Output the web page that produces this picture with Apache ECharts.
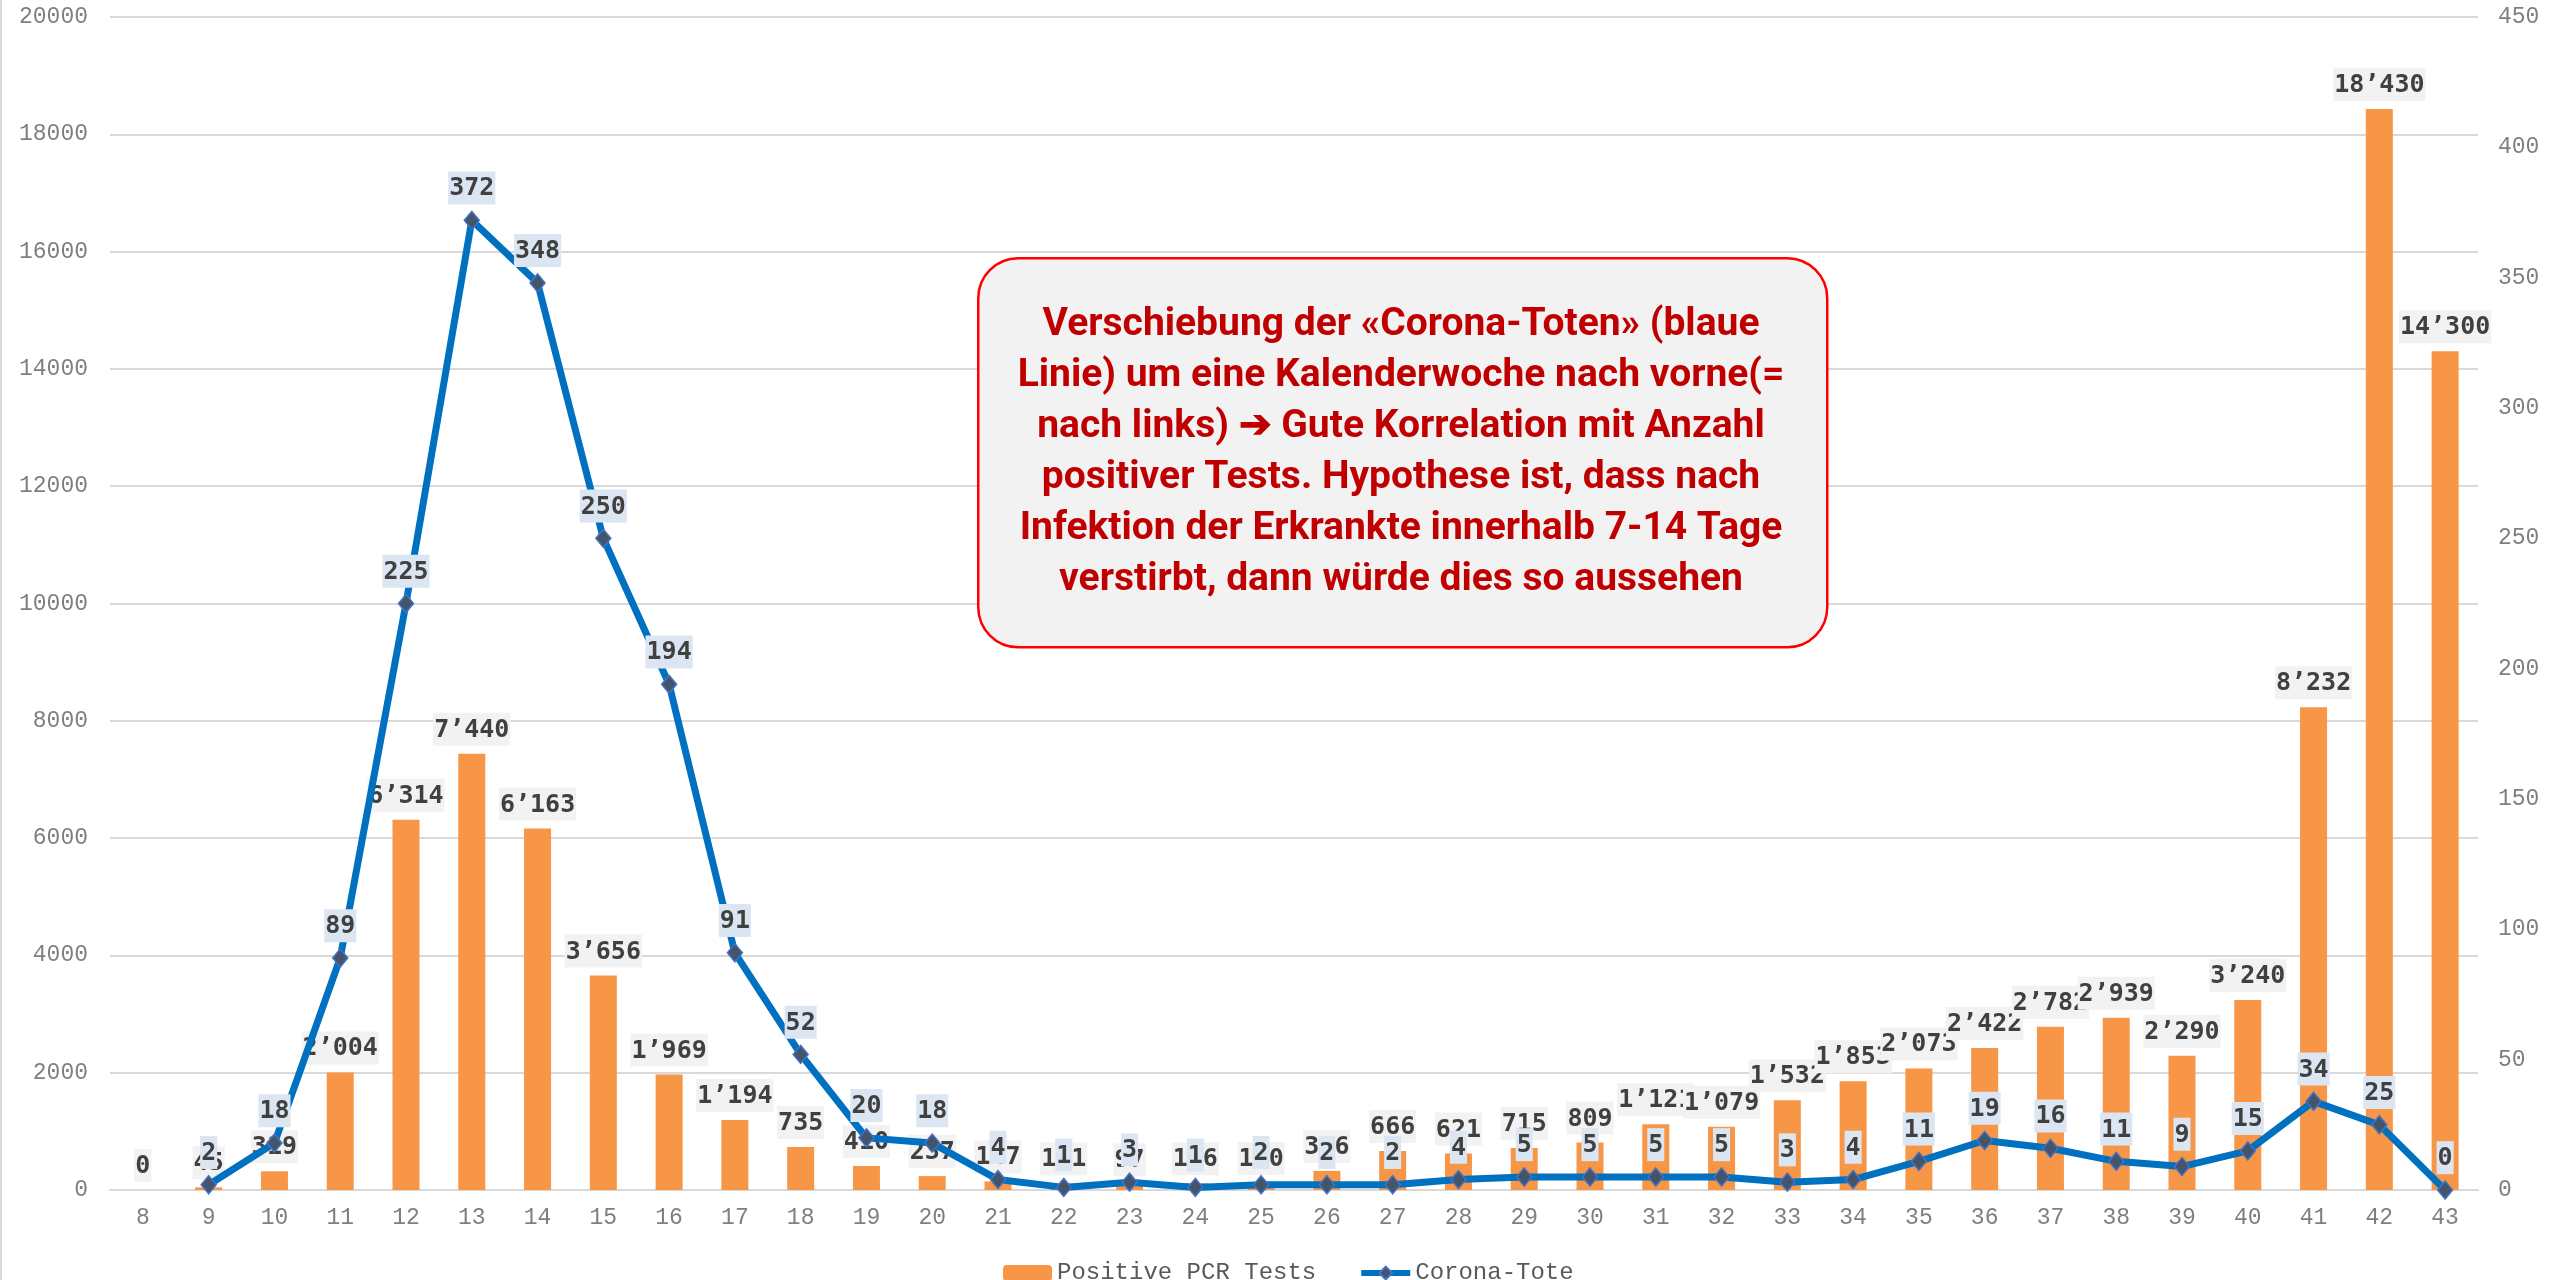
<!DOCTYPE html>
<html>
<head>
<meta charset="utf-8">
<script src="https://cdn.jsdelivr.net/npm/echarts@6/dist/echarts.min.js"></script>
<style>
  html, body { margin: 0; padding: 0; background: #fff; }
  #chart { width: 2552px; height: 1280px; }
</style>
</head>
<body>
<div id="chart"></div>
<script>
// Kalenderwochen
const weeks = ['8','9','10','11','12','13','14','15','16','17','18','19','20','21','22','23','24','25',
  '26','27','28','29','30','31','32','33','34','35','36','37','38','39','40','41','42','43'];
// positive PCR Tests pro Woche
const pcrTests = [0, 45, 319, 2004, 6314, 7440, 6163, 3656, 1969, 1194, 735, 410, 237, 147, 111, 97, 116, 120,
  326, 666, 621, 715, 809, 1121, 1079, 1532, 1853, 2073, 2422, 2782, 2939, 2290, 3240, 8232, 18430, 14300];
// Corona-Tote (um eine Woche nach links verschoben)
const deaths = ['-', 2, 18, 89, 225, 372, 348, 250, 194, 91, 52, 20, 18, 4, 1, 3, 1, 2,
  2, 2, 4, 5, 5, 5, 5, 3, 4, 11, 19, 16, 11, 9, 15, 34, 25, 0];

const noteLines = [
  'Verschiebung der «Corona-Toten» (blaue',
  'Linie) um eine Kalenderwoche nach vorne(=',
  'nach links) ➔ Gute Korrelation mit Anzahl',
  'positiver Tests. Hypothese ist, dass nach',
  'Infektion der Erkrankte innerhalb 7-14 Tage',
  'verstirbt, dann würde dies so aussehen'
];

const fmt = (v) => String(v).replace(/\B(?=(\d{3})+(?!\d))/g, '\u2019');

// Schriftgrösse der Notiz so wählen, dass die erste Zeile ca. 720px breit ist
const noteFont = 'Roboto';
let noteSize = 36;
(function () {
  const ctx = document.createElement('canvas').getContext('2d');
  ctx.font = 'bold 100px ' + noteFont;
  const w = ctx.measureText(noteLines[0]).width;
  if (w > 0) noteSize = Math.round(100 * 720 / w);
})();

const chart = echarts.init(document.getElementById('chart'));
const tickFont = { fontFamily: 'Liberation Mono', fontSize: 23, color: '#7f7f7f' };
const labelFont = { fontFamily: 'DejaVu Sans Mono', fontWeight: 'bold', fontSize: 25, color: '#404040' };

chart.setOption({
  animation: false,
  backgroundColor: '#fff',
  grid: { left: 110, right: 74, top: 17, bottom: 90 },
  legend: {
    left: 998,
    top: 1256,
    itemWidth: 49,
    itemHeight: 16,
    itemGap: 42,
    lineStyle: { width: 6 },
    textStyle: { fontFamily: 'Liberation Mono', fontSize: 24, color: '#595959' },
    data: ['Positive PCR Tests', 'Corona-Tote']
  },
  xAxis: {
    type: 'category',
    data: weeks,
    axisLine: { show: true, lineStyle: { color: '#d9d9d9', width: 2 } },
    axisTick: { show: false },
    axisLabel: Object.assign({ margin: 16 }, tickFont)
  },
  yAxis: [
    {
      type: 'value', min: 0, max: 20000, interval: 2000,
      axisLabel: Object.assign({ margin: 22, formatter: (v) => String(v) }, tickFont),
      splitLine: { lineStyle: { color: '#d9d9d9', width: 2 } }
    },
    {
      type: 'value', min: 0, max: 450, interval: 50,
      axisLabel: Object.assign({ margin: 20, formatter: (v) => String(v) }, tickFont),
      splitLine: { show: false }
    }
  ],
  series: [
    {
      name: 'Positive PCR Tests',
      type: 'bar',
      yAxisIndex: 0,
      data: pcrTests,
      barWidth: 27,
      itemStyle: { color: '#f79646' },
      z: 2,
      label: Object.assign({
        show: true,
        position: 'top',
        distance: 8,
        backgroundColor: '#f2f2f2',
        padding: [5, 1, 3, 1],
        formatter: (p) => fmt(p.value)
      }, labelFont)
    },
    {
      name: 'Corona-Tote',
      type: 'line',
      yAxisIndex: 1,
      data: deaths,
      z: 5,
      symbol: 'diamond',
      symbolSize: [15, 18],
      lineStyle: { color: '#0070c0', width: 7 },
      itemStyle: { color: '#44546a', borderColor: '#4472c4', borderWidth: 1.5 },
      label: Object.assign({
        show: true,
        position: 'top',
        distance: 6,
        backgroundColor: '#dce6f2',
        padding: [5, 1, 3, 1],
        formatter: (p) => fmt(p.value)
      }, labelFont)
    }
  ],
  graphic: [
    {
      type: 'rect',
      left: 0, top: 0,
      shape: { x: 0, y: 0, width: 2, height: 1280 },
      style: { fill: '#d9d9d9' }
    },
    {
      type: 'rect',
      left: 977,
      top: 257,
      z: 100,
      shape: { x: 0, y: 0, width: 849, height: 389, r: 40 },
      style: { fill: '#f2f2f2', stroke: '#ff0000', lineWidth: 2.5 }
    },
    {
      type: 'text',
      x: 977 + 424,
      y: 257 + 196,
      z: 101,
      style: {
        text: noteLines.join('\n'),
        align: 'center',
        verticalAlign: 'middle',
        fontFamily: noteFont,
        fontWeight: 'bold',
        fontSize: noteSize,
        lineHeight: 51,
        fill: '#c00000'
      }
    }
  ]
});
</script>
</body>
</html>
